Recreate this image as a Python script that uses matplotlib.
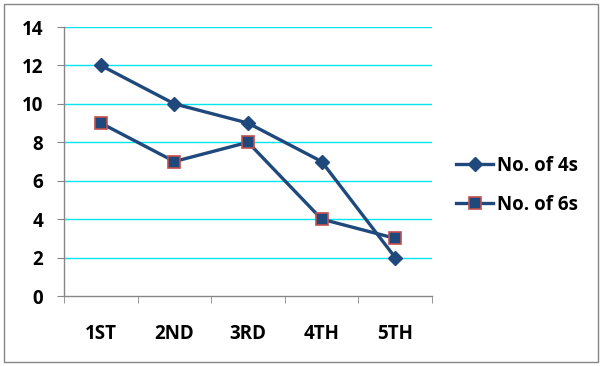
import matplotlib
matplotlib.use("Agg")
import matplotlib.pyplot as plt
from matplotlib.patches import Rectangle

categories = ["1ST", "2ND", "3RD", "4TH", "5TH"]
fours = [12, 10, 9, 7, 2]
sixes = [9, 7, 8, 4, 3]
yticks = [0, 2, 4, 6, 8, 10, 12, 14]

plt.rcParams['font.family'] = ['Open Sans', 'DejaVu Sans']

fig = plt.figure(figsize=(6.02, 3.66), dpi=100)
ax = fig.add_axes([64/602, 1-296/366, (432-64)/602, (296-27)/366])

line_col = '#1F497D'
x = list(range(len(categories)))
ax.plot(x, fours, color=line_col, lw=2.4, marker='D', markersize=7.5,
        markerfacecolor=line_col, markeredgecolor=line_col, label='No. of 4s')
ax.plot(x, sixes, color=line_col, lw=2.4, marker='s', markersize=9,
        markerfacecolor=line_col, markeredgecolor='#C0504D', markeredgewidth=1.2,
        label='No. of 6s')

ax.set_xlim(-0.5, len(categories) - 0.5)
ax.set_ylim(0, 14)
ax.set_yticks(yticks)
ax.set_yticklabels([str(v) for v in yticks], fontsize=13.5, fontweight='bold')
for v in yticks[1:]:
    ax.axhline(v, color='#00E5EE', lw=1, zorder=0)

ax.set_xticks(x)
ax.set_xticklabels(categories, fontsize=13.5, fontweight='bold')
ax.set_xticks([i - 0.5 for i in range(len(categories) + 1)], minor=True)
ax.tick_params(axis='x', which='major', length=0, pad=20)
ax.tick_params(axis='x', which='minor', length=5, color='#868686', direction='out')
ax.tick_params(axis='y', length=5, color='#868686', direction='out', pad=10)

for s in ['top', 'right']:
    ax.spines[s].set_visible(False)
for s in ['left', 'bottom']:
    ax.spines[s].set_color('#868686')
    ax.spines[s].set_linewidth(1)

leg = fig.legend(loc='upper left', bbox_to_anchor=(439/602, 1-139/366), frameon=False,
                 prop={'size': 13.5, 'weight': 'bold'}, handlelength=2.0,
                 labelspacing=1.0, handletextpad=0.2)

fig.patches.append(Rectangle((4/602, 4/366), 594/602, 358/366, transform=fig.transFigure,
                             fill=False, edgecolor='#868686', lw=1))

fig.savefig('out.png', dpi=100)
